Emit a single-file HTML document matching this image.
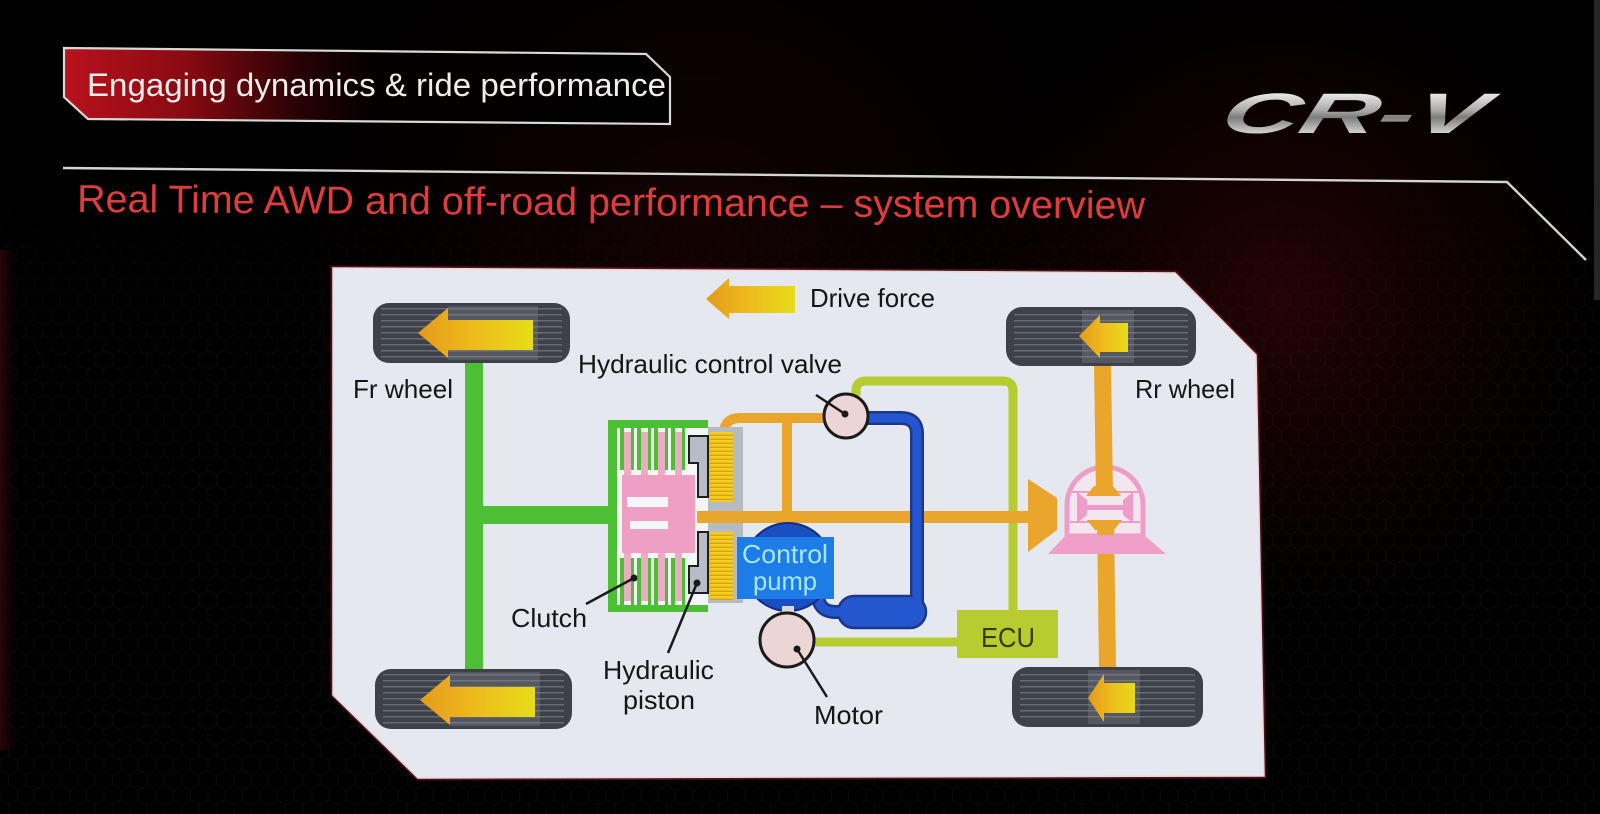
<!DOCTYPE html>
<html><head><meta charset="utf-8">
<style>
html,body{margin:0;padding:0;background:#000;}
body{width:1600px;height:814px;overflow:hidden;}
svg{display:block;}
text{font-family:"Liberation Sans",Arial,sans-serif;}
</style></head><body>
<svg width="1600" height="814" viewBox="0 0 1600 814" xmlns="http://www.w3.org/2000/svg">
<defs>
 <pattern id="hex" width="17.32" height="30" patternUnits="userSpaceOnUse">
  <path d="M8.66 0V5L17.32 10V20L8.66 25L0 20V10L8.66 5M8.66 25V30" fill="none" stroke="#1a1a1a" stroke-width="1.2"/>
 </pattern>
 <linearGradient id="topfade" x1="0" y1="0" x2="0" y2="1">
   <stop offset="0" stop-color="#000" stop-opacity="1"/>
   <stop offset="0.22" stop-color="#000" stop-opacity="1"/>
   <stop offset="0.4" stop-color="#000" stop-opacity="0.5"/>
   <stop offset="1" stop-color="#000" stop-opacity="0.4"/>
 </linearGradient>
 <radialGradient id="redglow" cx="1280" cy="300" r="320" gradientUnits="userSpaceOnUse">
   <stop offset="0" stop-color="#4a080a" stop-opacity="0.5"/>
   <stop offset="1" stop-color="#300" stop-opacity="0"/>
 </radialGradient>
 <radialGradient id="redglow2" cx="700" cy="260" r="420" gradientUnits="userSpaceOnUse">
   <stop offset="0" stop-color="#3a0608" stop-opacity="0.35"/>
   <stop offset="1" stop-color="#200" stop-opacity="0"/>
 </radialGradient>
 <linearGradient id="leftred" x1="0" y1="0" x2="1" y2="0">
   <stop offset="0" stop-color="#2a0606"/>
   <stop offset="1" stop-color="#000" stop-opacity="0"/>
 </linearGradient>
 <linearGradient id="tab" x1="64" y1="0" x2="670" y2="0" gradientUnits="userSpaceOnUse">
   <stop offset="0" stop-color="#b8121c"/>
   <stop offset="0.2" stop-color="#8a0a12"/>
   <stop offset="0.38" stop-color="#2a0204"/>
   <stop offset="0.5" stop-color="#050000"/>
   <stop offset="1" stop-color="#000"/>
 </linearGradient>
 <linearGradient id="logo" x1="0" y1="92" x2="0" y2="134" gradientUnits="userSpaceOnUse">
   <stop offset="0" stop-color="#eeeeee"/>
   <stop offset="0.45" stop-color="#a8a8a8"/>
   <stop offset="0.6" stop-color="#7c7c7c"/>
   <stop offset="1" stop-color="#d6d6d6"/>
 </linearGradient>
 <linearGradient id="arrow" x1="0" y1="0" x2="1" y2="0">
   <stop offset="0" stop-color="#e39a1c"/>
   <stop offset="0.45" stop-color="#eeb91c"/>
   <stop offset="1" stop-color="#e6dc1a"/>
 </linearGradient>
 <pattern id="tread" width="10" height="6" patternUnits="userSpaceOnUse">
   <rect x="0" y="2" width="10" height="1.5" fill="#676b75"/>
 </pattern>
 <pattern id="ridge" width="10" height="4" patternUnits="userSpaceOnUse">
   <rect x="0" y="0" width="10" height="4" fill="#f3cd1f"/>
   <rect x="0" y="2.6" width="10" height="1.4" fill="#d6a414"/>
 </pattern>
</defs>

<!-- background -->
<rect width="1600" height="814" fill="#000"/>
<rect width="1600" height="814" fill="url(#hex)" opacity="0.6"/>
<rect width="1600" height="814" fill="url(#topfade)"/>
<rect width="1600" height="814" fill="url(#redglow2)"/>
<rect width="1600" height="814" fill="url(#redglow)"/>
<rect x="0" y="250" width="22" height="500" fill="url(#leftred)"/>
<rect x="1594" y="0" width="6" height="300" fill="#262626"/>

<!-- header tab -->
<polygon points="64,48 646,54 670,77 670,124 88,119 64,97" fill="url(#tab)" stroke="#d8d8d8" stroke-width="2.2"/>
<text x="87" y="96" font-size="32" fill="#f3ecec" textLength="579" lengthAdjust="spacingAndGlyphs">Engaging dynamics &amp; ride performance</text>

<!-- logo -->
<g transform="translate(0,133) skewX(-16) translate(0,-133)">
<text x="1218" y="133" font-size="57" font-weight="bold" font-style="italic" fill="url(#logo)" textLength="264" lengthAdjust="spacingAndGlyphs">CR-V</text>
</g>

<!-- rule -->
<polyline points="63,168 1507,182 1586,260" fill="none" stroke="#d4d4d4" stroke-width="2.4"/>

<!-- subtitle -->
<text x="77" y="212" font-size="39" fill="#e03c3e" textLength="1068" lengthAdjust="spacingAndGlyphs" transform="rotate(0.35 77 212)">Real Time AWD and off-road performance – system overview</text>

<!-- panel -->
<polygon points="333,268 1175,273 1256,355 1264,776 418,778 333,695" fill="none" stroke="#6a1a24" stroke-width="5" opacity="0.7"/>
<polygon points="333,268 1175,273 1256,355 1264,776 418,778 333,695" fill="#e5e8ee" stroke="#f0d6dc" stroke-width="1.5"/>

<!-- labels -->
<g font-size="26" fill="#151515">
 <text x="810" y="307" textLength="125" lengthAdjust="spacingAndGlyphs">Drive force</text>
 <text x="578" y="373" textLength="264" lengthAdjust="spacingAndGlyphs">Hydraulic control valve</text>
 <text x="353" y="398" textLength="100" lengthAdjust="spacingAndGlyphs">Fr wheel</text>
 <text x="1135" y="398" textLength="100" lengthAdjust="spacingAndGlyphs">Rr wheel</text>
 <text x="511" y="627" textLength="76" lengthAdjust="spacingAndGlyphs">Clutch</text>
 <text x="603" y="679" textLength="111" lengthAdjust="spacingAndGlyphs">Hydraulic</text>
 <text x="623" y="709" textLength="72" lengthAdjust="spacingAndGlyphs">piston</text>
 <text x="814" y="724" textLength="69" lengthAdjust="spacingAndGlyphs">Motor</text>
</g>

<!-- drive force arrow -->
<polygon points="706,299 729,278 729,286 795,286 795,313 729,313 729,319" fill="url(#arrow)"/>

<!-- front axle green -->
<rect x="465" y="358" width="18" height="314" fill="#4dbf35"/>
<rect x="465" y="506" width="146" height="18" fill="#4dbf35"/>

<!-- lime ECU signal lines -->
<path d="M856 396 V391 Q856 381 866 381 H1003 Q1013 381 1013 391 V612" fill="none" stroke="#b6cc30" stroke-width="9"/>
<path d="M808 642 H960" fill="none" stroke="#b6cc30" stroke-width="9"/>

<!-- orange hydraulic lines -->
<path d="M724 434 Q724 418 740 418 H832" fill="none" stroke="#eaa52c" stroke-width="10"/>
<path d="M787 418 V512" fill="none" stroke="#eaa52c" stroke-width="10"/>

<!-- clutch housing -->
<rect x="608" y="420" width="100" height="192" fill="#4dbf35"/>
<rect x="617" y="428" width="91" height="177" fill="#f4f6f8"/>
<g>
 <rect x="620" y="428" width="4" height="42" fill="#4dbf35"/>
 <rect x="631" y="428" width="3" height="42" fill="#4dbf35"/>
 <rect x="637" y="428" width="4" height="42" fill="#4dbf35"/>
 <rect x="648" y="428" width="3" height="42" fill="#4dbf35"/>
 <rect x="654" y="428" width="4" height="42" fill="#4dbf35"/>
 <rect x="665" y="428" width="3" height="42" fill="#4dbf35"/>
 <rect x="671" y="428" width="4" height="42" fill="#4dbf35"/>
 <rect x="682" y="428" width="3" height="42" fill="#4dbf35"/>
 <rect x="624" y="432" width="7" height="44" fill="#eeabc6"/>
 <rect x="641" y="432" width="7" height="44" fill="#eeabc6"/>
 <rect x="658" y="432" width="7" height="44" fill="#eeabc6"/>
 <rect x="675" y="432" width="7" height="44" fill="#eeabc6"/>
</g>
<g>
 <rect x="620" y="558" width="4" height="47" fill="#4dbf35"/>
 <rect x="631" y="558" width="3" height="47" fill="#4dbf35"/>
 <rect x="637" y="558" width="4" height="47" fill="#4dbf35"/>
 <rect x="648" y="558" width="3" height="47" fill="#4dbf35"/>
 <rect x="654" y="558" width="4" height="47" fill="#4dbf35"/>
 <rect x="665" y="558" width="3" height="47" fill="#4dbf35"/>
 <rect x="671" y="558" width="4" height="47" fill="#4dbf35"/>
 <rect x="682" y="558" width="3" height="47" fill="#4dbf35"/>
 <rect x="624" y="552" width="7" height="49" fill="#eeabc6"/>
 <rect x="641" y="552" width="7" height="49" fill="#eeabc6"/>
 <rect x="658" y="552" width="7" height="49" fill="#eeabc6"/>
 <rect x="675" y="552" width="7" height="49" fill="#eeabc6"/>
</g>
<rect x="622" y="475" width="73" height="78" fill="#ef9ec4"/>
<rect x="627" y="497" width="41" height="10" fill="#f4f6f8"/>
<rect x="630" y="521" width="38" height="8" fill="#f4f6f8"/>
<rect x="708" y="427" width="35" height="176" fill="#b6bac2"/>
<rect x="710" y="432" width="23" height="70" fill="url(#ridge)"/>
<rect x="710" y="532" width="23" height="68" fill="url(#ridge)"/>
<polygon points="689,436 708,436 708,497 698,497 698,463 689,463" fill="#b8bcc6" stroke="#1e1e1e" stroke-width="2"/>
<polygon points="698,532 708,532 708,593 689,593 689,566 698,566" fill="#b8bcc6" stroke="#1e1e1e" stroke-width="2"/>

<!-- main orange propeller shaft -->
<rect x="697" y="511" width="333" height="12" fill="#eaa52c"/>

<!-- blue hydraulic line & reservoir -->
<path d="M862 418 H901 Q917 418 917 434 V606" fill="none" stroke="#1b388a" stroke-width="14"/>
<path d="M818 594 Q818 612 836 612 H846" fill="none" stroke="#1b388a" stroke-width="14"/>
<rect x="838" y="596" width="88" height="32" rx="16" fill="#2457cf" stroke="#1b388a" stroke-width="2.5"/>
<path d="M862 418 H901 Q917 418 917 434 V606" fill="none" stroke="#2457cf" stroke-width="9"/>
<path d="M818 594 Q818 612 836 612 H846" fill="none" stroke="#2457cf" stroke-width="9"/>

<!-- control valve -->
<circle cx="846" cy="416" r="22" fill="#ecd5d5" stroke="#1a1a1a" stroke-width="3"/>
<line x1="845" y1="414" x2="816" y2="395" stroke="#1a1a1a" stroke-width="2.5"/>
<circle cx="845" cy="414" r="3.5" fill="#1a1a1a"/>

<!-- control pump -->
<circle cx="788" cy="567" r="44" fill="#1a4fc4" stroke="#0f2e80" stroke-width="2"/>
<rect x="737" y="537" width="97" height="62" fill="#1e7ce6"/>
<text x="785" y="563" font-size="26" fill="#a6e8ff" text-anchor="middle" textLength="86" lengthAdjust="spacingAndGlyphs">Control</text>
<text x="785" y="590" font-size="26" fill="#a6e8ff" text-anchor="middle" textLength="64" lengthAdjust="spacingAndGlyphs">pump</text>

<!-- motor -->
<rect x="782" y="606" width="12" height="10" fill="#d8d8dc"/>
<circle cx="787" cy="640" r="27" fill="#ecd5d5" stroke="#1a1a1a" stroke-width="3"/>
<line x1="797" y1="649" x2="827" y2="697" stroke="#1a1a1a" stroke-width="2.5"/>
<circle cx="797" cy="649" r="3.5" fill="#1a1a1a"/>

<!-- clutch / piston leaders -->
<line x1="634" y1="578" x2="586" y2="604" stroke="#1a1a1a" stroke-width="2.5"/>
<circle cx="634" cy="578" r="3.5" fill="#1a1a1a"/>
<line x1="697" y1="583" x2="668" y2="653" stroke="#1a1a1a" stroke-width="2.5"/>
<circle cx="697" cy="583" r="3.5" fill="#1a1a1a"/>

<!-- ECU -->
<rect x="957" y="610" width="101" height="48" fill="#b6cc30"/>
<text x="1008" y="647" font-size="28" fill="#3a3a12" text-anchor="middle" textLength="54" lengthAdjust="spacingAndGlyphs">ECU</text>

<!-- rear differential -->
<path d="M1067 536 V505 A38 38 0 0 1 1143 505 V536 Z" fill="#f4e6ee" stroke="#ee9cc8" stroke-width="5"/>
<polygon points="1094,364 1111,364 1113,495 1096,495" fill="#eaa52c"/>
<polygon points="1097,520 1114,520 1116,669 1099,669" fill="#eaa52c"/>
<line x1="1070" y1="492" x2="1140" y2="492" stroke="#ee9cc8" stroke-width="2"/>
<line x1="1070" y1="522" x2="1140" y2="522" stroke="#ee9cc8" stroke-width="2"/>
<rect x="1080" y="505" width="50" height="5" fill="#ee9cc8"/>
<polygon points="1077,492 1087,500 1087,515 1077,523" fill="#ee9cc8"/>
<polygon points="1133,492 1123,500 1123,515 1133,523" fill="#ee9cc8"/>
<polygon points="1094,486 1113,486 1121,496 1086,496" fill="#eaa52c"/>
<polygon points="1087,520 1122,520 1114,530 1095,530" fill="#eaa52c"/>
<polygon points="1066,535 1144,535 1166,554 1048,554" fill="#f0a0c8"/>
<polygon points="1028,479 1057,498 1057,530 1028,552" fill="#eaa52c"/>

<!-- tires -->
<rect x="373" y="303" width="197" height="60" rx="16" fill="#3e4149"/>
<rect x="381" y="308" width="181" height="50" fill="url(#tread)"/>
<rect x="448" y="306" width="90" height="54" fill="#8a8d95" opacity="0.3"/>
<polygon points="418,333 448,308 448,320 533,320 533,350 448,350 448,358" fill="url(#arrow)"/>

<rect x="375" y="669" width="197" height="60" rx="16" fill="#3e4149"/>
<rect x="383" y="674" width="181" height="50" fill="url(#tread)"/>
<rect x="450" y="672" width="90" height="54" fill="#8a8d95" opacity="0.3"/>
<polygon points="420,700 450,675 450,687 535,687 535,717 450,717 450,725" fill="url(#arrow)"/>

<rect x="1006" y="307" width="190" height="59" rx="16" fill="#3e4149"/>
<rect x="1014" y="312" width="174" height="49" fill="url(#tread)"/>
<rect x="1082" y="310" width="52" height="53" fill="#8a8d95" opacity="0.3"/>
<polygon points="1079,336 1100,315 1100,323 1128,323 1128,352 1100,352 1100,358" fill="url(#arrow)"/>

<rect x="1012" y="667" width="191" height="60" rx="16" fill="#3e4149"/>
<rect x="1020" y="672" width="175" height="50" fill="url(#tread)"/>
<rect x="1088" y="670" width="52" height="54" fill="#8a8d95" opacity="0.3"/>
<polygon points="1088,698 1104,674 1104,683 1135,683 1135,713 1104,713 1104,722" fill="url(#arrow)"/>
</svg>
</body></html>
